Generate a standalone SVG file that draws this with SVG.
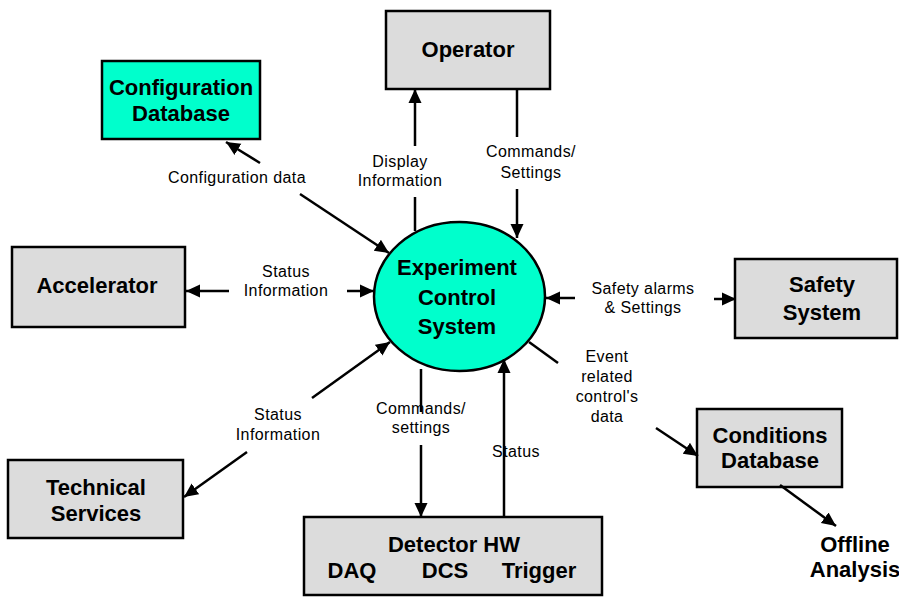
<svg xmlns="http://www.w3.org/2000/svg" width="899" height="597" viewBox="0 0 899 597">
<defs>
<marker id="ah" markerUnits="userSpaceOnUse" markerWidth="15" markerHeight="15" viewBox="0 0 15 15" refX="14" refY="7.5" orient="auto">
<path d="M0,1 L14,7.5 L0,14 z" fill="#000"/>
</marker>
<style>
.box{fill:#dcdcdc;stroke:#000;stroke-width:2.5}
.cyan{fill:#00ffcc;stroke:#000;stroke-width:2.5}
.t{font-family:"Liberation Sans",Arial,sans-serif;font-weight:bold;font-size:22px;text-anchor:middle;fill:#000}
.l{font-family:"Liberation Sans",Arial,sans-serif;font-size:16px;letter-spacing:0.4px;text-anchor:middle;fill:#000}
.c line{stroke:#000;stroke-width:2.5}
.c line.a{marker-end:url(#ah)}
</style>
</defs>
<rect width="899" height="597" fill="#fff"/>

<g id="config-db">
<rect class="cyan" x="102" y="61" width="158" height="78"/>
<text class="t" x="181" y="95">Configuration</text>
<text class="t" x="181" y="121">Database</text>
</g>

<g id="operator">
<rect class="box" x="386" y="11" width="164" height="78"/>
<text class="t" x="468" y="57">Operator</text>
</g>

<g id="accelerator">
<rect class="box" x="12" y="247" width="173" height="80"/>
<text class="t" x="97" y="293">Accelerator</text>
</g>

<g id="ecs">
<ellipse class="cyan" cx="459.5" cy="296.5" rx="85.5" ry="74.5" stroke-width="2"/>
<text class="t" x="457" y="275" font-size="23">Experiment</text>
<text class="t" x="457" y="305" font-size="23">Control</text>
<text class="t" x="457" y="334" font-size="23">System</text>
</g>

<g id="safety">
<rect class="box" x="735" y="259" width="162" height="79"/>
<text class="t" x="822" y="292">Safety</text>
<text class="t" x="822" y="320">System</text>
</g>

<g id="technical">
<rect class="box" x="8" y="460" width="175" height="78"/>
<text class="t" x="96" y="495">Technical</text>
<text class="t" x="96" y="521">Services</text>
</g>

<g id="detector">
<rect class="box" x="304" y="517" width="298" height="78"/>
<text class="t" x="454" y="552">Detector HW</text>
<text class="t" x="352" y="578">DAQ</text>
<text class="t" x="445" y="578">DCS</text>
<text class="t" x="539" y="578">Trigger</text>
</g>

<g id="conditions">
<rect class="box" x="697" y="409" width="145" height="78"/>
<text class="t" x="770" y="443">Conditions</text>
<text class="t" x="770" y="468">Database</text>
</g>

<g id="offline">
<text class="t" x="855" y="552" font-size="20">Offline</text>
<text class="t" x="855" y="577" font-size="20">Analysis</text>
</g>

<g id="connectors" class="c">
<line class="a" x1="260" y1="163" x2="226" y2="142"/>
<line class="a" x1="300" y1="194" x2="389" y2="253"/>
<line x1="415" y1="231" x2="415" y2="197"/>
<line class="a" x1="415" y1="146" x2="415" y2="89"/>
<line x1="517" y1="89" x2="517" y2="137"/>
<line class="a" x1="517" y1="189" x2="517" y2="238"/>
<line class="a" x1="229" y1="291" x2="186" y2="291"/>
<line class="a" x1="347" y1="291" x2="374" y2="291"/>
<line class="a" x1="575" y1="298" x2="546" y2="298"/>
<line class="a" x1="714" y1="299" x2="736" y2="299"/>
<line class="a" x1="312" y1="398" x2="390" y2="342"/>
<line class="a" x1="247" y1="452" x2="184" y2="497"/>
<line x1="421" y1="369" x2="421" y2="412"/>
<line class="a" x1="421" y1="445" x2="421" y2="517"/>
<line class="a" x1="504" y1="517" x2="504" y2="359"/>
<line x1="529" y1="342" x2="558" y2="363"/>
<line class="a" x1="656" y1="428" x2="698" y2="456"/>
<line class="a" x1="780" y1="485" x2="836" y2="526"/>
</g>

<g id="labels">
<text class="l" x="237" y="183">Configuration data</text>
<text class="l" x="400" y="167">Display</text>
<text class="l" x="400" y="186">Information</text>
<text class="l" x="531" y="157">Commands/</text>
<text class="l" x="531" y="178">Settings</text>
<text class="l" x="286" y="277">Status</text>
<text class="l" x="286" y="296">Information</text>
<text class="l" x="643" y="294">Safety alarms</text>
<text class="l" x="643" y="313">&amp; Settings</text>
<text class="l" x="278" y="420">Status</text>
<text class="l" x="278" y="440">Information</text>
<text class="l" x="421" y="414">Commands/</text>
<text class="l" x="421" y="433">settings</text>
<text class="l" x="516" y="457">Status</text>
<text class="l" x="607" y="362">Event</text>
<text class="l" x="607" y="382">related</text>
<text class="l" x="607" y="402">control's</text>
<text class="l" x="607" y="422">data</text>
</g>
</svg>
